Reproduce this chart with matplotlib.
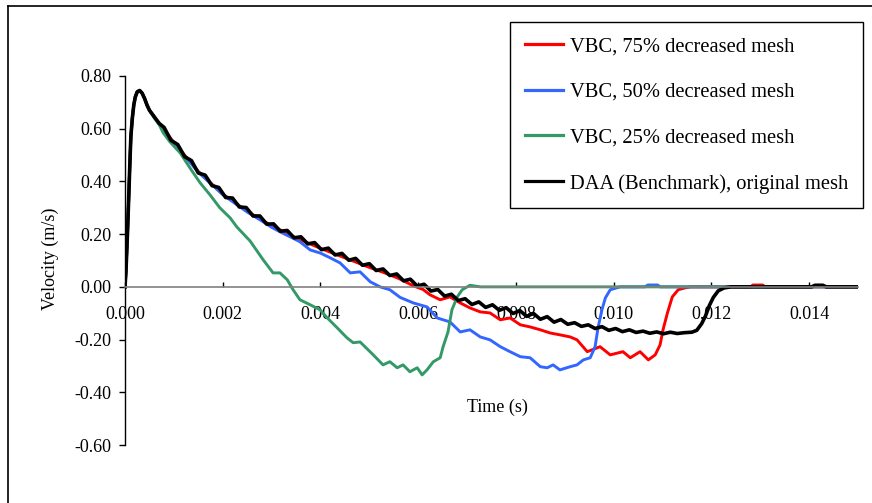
import matplotlib
matplotlib.use("Agg")
import matplotlib.pyplot as plt
from matplotlib.lines import Line2D
from matplotlib.ticker import FixedLocator, FormatStrFormatter

plt.rcParams['font.family'] = ['Liberation Serif', 'DejaVu Serif']
plt.rcParams['axes.unicode_minus'] = False

# ---------------- data (time in s, velocity in m/s) ----------------
black_t = [0, 0.00002, 0.00005, 0.00008, 0.00010, 0.00012, 0.00015, 0.00018, 0.00021, 0.00025,
           0.00030, 0.00035, 0.00040, 0.00045, 0.00050, 0.00056, 0.00062, 0.00070,
           0.00080, 0.00094, 0.00108, 0.00122, 0.00136, 0.00150, 0.00164, 0.00178, 0.00192, 0.00206,
           0.00220, 0.00234, 0.00248, 0.00262, 0.00276, 0.00290, 0.00304, 0.00318, 0.00332, 0.00346,
           0.00360, 0.00374, 0.00388, 0.00402, 0.00416, 0.00430, 0.00444, 0.00458, 0.00472, 0.00486,
           0.00500, 0.00514, 0.00528, 0.00542, 0.00556, 0.00570, 0.00584, 0.00598, 0.00612, 0.00626,
           0.00640, 0.00654, 0.00668, 0.00682, 0.00696, 0.00710, 0.00724, 0.00738, 0.00752, 0.00766,
           0.00780, 0.00794, 0.00808, 0.00822, 0.00836, 0.00850, 0.00864, 0.00878, 0.00892, 0.00906,
           0.00920, 0.00934, 0.00948, 0.00962, 0.00976, 0.00990, 0.01004, 0.01018, 0.01032, 0.01046,
           0.01060, 0.01074, 0.01088, 0.01102, 0.01116, 0.01130, 0.01144,
           0.01160, 0.01170, 0.01180, 0.01188, 0.01196, 0.01204, 0.01214, 0.01226, 0.01240,
           0.01405, 0.01412, 0.01428, 0.01435, 0.01500]
black_v = [0.0, 0.06, 0.20, 0.36, 0.47, 0.57, 0.64, 0.69, 0.72, 0.74,
           0.745, 0.735, 0.715, 0.69, 0.67, 0.655, 0.64, 0.62,
           0.605, 0.556, 0.540, 0.494, 0.479, 0.432, 0.424, 0.384, 0.377, 0.339,
           0.337, 0.303, 0.301, 0.269, 0.269, 0.238, 0.239, 0.211, 0.214, 0.186,
           0.190, 0.163, 0.168, 0.141, 0.147, 0.121, 0.127, 0.101, 0.108, 0.082,
           0.088, 0.062, 0.068, 0.043, 0.049, 0.023, 0.029, 0.003, 0.010, -0.016,
           -0.010, -0.035, -0.028, -0.052, -0.045, -0.067, -0.057, -0.078, -0.068, -0.089,
           -0.079, -0.101, -0.090, -0.112, -0.101, -0.123, -0.113, -0.134, -0.124, -0.142,
           -0.136, -0.150, -0.144, -0.158, -0.151, -0.165, -0.158, -0.170, -0.163, -0.173,
           -0.168, -0.176, -0.171, -0.178, -0.172, -0.177, -0.174,
           -0.172, -0.165, -0.14, -0.11, -0.07, -0.04, -0.015, -0.004, 0.0,
           0.0, 0.006, 0.006, 0.0, 0.0]

red_t = [0, 0.00002, 0.00005, 0.00008, 0.00010, 0.00012, 0.00015, 0.00018, 0.00021, 0.00025,
         0.00030, 0.00035, 0.00040, 0.00045, 0.00050, 0.00060, 0.00070, 0.00100, 0.00150, 0.00200,
         0.00250, 0.00300, 0.00350, 0.00400, 0.00450, 0.00500, 0.00530, 0.00560, 0.00590, 0.00610,
         0.00624, 0.00645, 0.00665, 0.00686, 0.00706, 0.00727, 0.00747, 0.00768, 0.00788, 0.00809,
         0.00829, 0.00850, 0.00870, 0.00890, 0.00911, 0.00925, 0.00946, 0.00972, 0.00993, 0.01019,
         0.01034, 0.01054, 0.01071, 0.01085, 0.01095, 0.01101, 0.01110, 0.01120, 0.01132, 0.01146,
         0.01157, 0.01280, 0.01285, 0.01305, 0.01310, 0.01500]
red_v = [0, 0.06, 0.20, 0.36, 0.47, 0.57, 0.64, 0.69, 0.72, 0.74,
         0.745, 0.735, 0.715, 0.69, 0.67, 0.645, 0.62, 0.548, 0.438, 0.352,
         0.287, 0.232, 0.186, 0.146, 0.110, 0.074, 0.054, 0.032, 0.004, -0.010,
         -0.030, -0.049, -0.038, -0.061, -0.080, -0.095, -0.099, -0.125, -0.118, -0.144,
         -0.152, -0.163, -0.175, -0.182, -0.190, -0.201, -0.246, -0.227, -0.258, -0.246,
         -0.269, -0.246, -0.277, -0.258, -0.22, -0.163, -0.099, -0.038, -0.011, -0.004,
         0.0, 0.0, 0.007, 0.007, 0.0, 0.0]

blue_t = [0, 0.00002, 0.00005, 0.00008, 0.00010, 0.00012, 0.00015, 0.00018, 0.00021, 0.00025,
          0.00030, 0.00035, 0.00040, 0.00045, 0.00050, 0.00060, 0.00070, 0.00100, 0.00150, 0.00200,
          0.00250, 0.00280, 0.00300, 0.00317, 0.00338, 0.00358, 0.00379, 0.00400, 0.00420, 0.00440,
          0.00461, 0.00481, 0.00502, 0.00522, 0.00542, 0.00563, 0.00590, 0.00618, 0.00639, 0.00665,
          0.00686, 0.00706, 0.00727, 0.00747, 0.00768, 0.00788, 0.00809, 0.00829, 0.00850, 0.00864,
          0.00876, 0.00890, 0.00911, 0.00925, 0.00938, 0.00952, 0.00962, 0.00968, 0.00976, 0.00983,
          0.00993, 0.01013, 0.01064, 0.01070, 0.01090, 0.01095, 0.01500]
blue_v = [0, 0.06, 0.20, 0.36, 0.47, 0.57, 0.64, 0.69, 0.72, 0.74,
          0.745, 0.735, 0.715, 0.69, 0.67, 0.645, 0.62, 0.545, 0.435, 0.350,
          0.284, 0.250, 0.226, 0.209, 0.190, 0.171, 0.140, 0.128, 0.110, 0.091,
          0.053, 0.057, 0.019, 0.0, -0.011, -0.040, -0.061, -0.076, -0.118, -0.133,
          -0.171, -0.163, -0.190, -0.201, -0.227, -0.246, -0.265, -0.269, -0.303, -0.307,
          -0.296, -0.315, -0.303, -0.296, -0.277, -0.269, -0.227, -0.155, -0.087, -0.042,
          -0.011, 0.0, 0.0, 0.007, 0.007, 0.0, 0.0]

green_t = [0, 0.00002, 0.00005, 0.00008, 0.00010, 0.00012, 0.00015, 0.00018, 0.00021, 0.00025,
           0.00030, 0.00035, 0.00040, 0.00045, 0.00050, 0.00060, 0.00070, 0.00078, 0.00092, 0.00113,
           0.00133, 0.00154, 0.00174, 0.00194, 0.00215, 0.00229, 0.00256, 0.00283, 0.00303, 0.00317,
           0.00332, 0.00344, 0.00358, 0.00379, 0.00399, 0.00414, 0.00434, 0.00454, 0.00467, 0.00481,
           0.00491, 0.00508, 0.00528, 0.00542, 0.00557, 0.00569, 0.00583, 0.00598, 0.00608, 0.00618,
           0.00631, 0.00645, 0.00651, 0.00661, 0.00669, 0.00680, 0.00690, 0.00706, 0.00727, 0.01500]
green_v = [0, 0.06, 0.20, 0.36, 0.47, 0.57, 0.64, 0.69, 0.72, 0.74,
           0.745, 0.735, 0.715, 0.69, 0.67, 0.64, 0.615, 0.585, 0.550, 0.508,
           0.451, 0.394, 0.349, 0.300, 0.262, 0.227, 0.174, 0.102, 0.053, 0.053,
           0.027, -0.011, -0.049, -0.068, -0.087, -0.118, -0.155, -0.193, -0.212, -0.209,
           -0.227, -0.258, -0.296, -0.284, -0.307, -0.296, -0.322, -0.307, -0.334, -0.315,
           -0.284, -0.269, -0.227, -0.171, -0.087, -0.038, -0.011, 0.006, 0.0, 0.0]

labels = ["VBC, 75% decreased mesh", "VBC, 50% decreased mesh",
          "VBC, 25% decreased mesh", "DAA (Benchmark), original mesh"]
x_ticks = [0.000, 0.002, 0.004, 0.006, 0.008, 0.010, 0.012, 0.014]
y_ticks = [-0.60, -0.40, -0.20, 0.00, 0.20, 0.40, 0.60, 0.80]

for a, b in [(black_t, black_v), (red_t, red_v), (blue_t, blue_v), (green_t, green_v)]:
    assert len(a) == len(b), (len(a), len(b))

# ---------------- figure ----------------
W, H = 872, 503
fig = plt.figure(figsize=(W / 100, H / 100), dpi=100)
ax = fig.add_axes([125 / W, 1 - 445 / H, (858 - 125) / W, (445 - 76) / H])

ax.plot(red_t, red_v, color='#FF0000', lw=2.1, label=labels[0], solid_joinstyle='round')
ax.plot(blue_t, blue_v, color='#3366FF', lw=2.1, label=labels[1], solid_joinstyle='round')
ax.plot(green_t, green_v, color='#339966', lw=2.1, label=labels[2], solid_joinstyle='round')
ax.plot(black_t, black_v, color='#000000', lw=2.6, label=labels[3], solid_joinstyle='round')

ax.set_xlim(0, 0.015)
ax.set_ylim(-0.60, 0.80)
ax.spines['top'].set_visible(False)
ax.spines['right'].set_visible(False)
ax.spines['bottom'].set_position(('data', 0))
ax.spines['bottom'].set_color('#808080')
ax.spines['bottom'].set_linewidth(1.2)
ax.spines['left'].set_linewidth(1.0)

ax.xaxis.set_major_locator(FixedLocator(x_ticks))
ax.yaxis.set_major_locator(FixedLocator(y_ticks))
ax.xaxis.set_major_formatter(FormatStrFormatter('%.3f'))
ax.yaxis.set_major_formatter(FormatStrFormatter('%.2f'))
ax.tick_params(axis='x', direction='in', length=3.5, width=1, color='black', pad=13.5, labelsize=13)
ax.tick_params(axis='y', direction='out', length=4.5, width=1, pad=5, labelsize=13)

fig.text(497 / W, 1 - 407 / H, "Time (s)", ha='center', va='center', fontsize=13)
fig.text(50 / W, 1 - 259 / H, "Velocity (m/s)", ha='center', va='center', rotation=90, fontsize=13)

leg = ax.legend(loc='upper left', bbox_to_anchor=(510 / W, 1 - 22 / H), bbox_transform=fig.transFigure,
                fontsize=14.8, frameon=True, fancybox=False, shadow=False, framealpha=1,
                handlelength=1.85, handletextpad=0.33, labelspacing=1.28, borderpad=0.72,
                borderaxespad=0)
leg.get_frame().set_edgecolor('black')
leg.get_frame().set_linewidth(1.0)
for l in leg.get_lines():
    l.set_linewidth(2.3)

# outer chart frame (left and top edges visible)
fig.add_artist(Line2D([8 / W, 8 / W], [0, 1 - 6 / H], transform=fig.transFigure, color='black', lw=1.2))
fig.add_artist(Line2D([8 / W, 1], [1 - 6 / H, 1 - 6 / H], transform=fig.transFigure, color='black', lw=1.2))

fig.savefig("out.png", dpi=100)
